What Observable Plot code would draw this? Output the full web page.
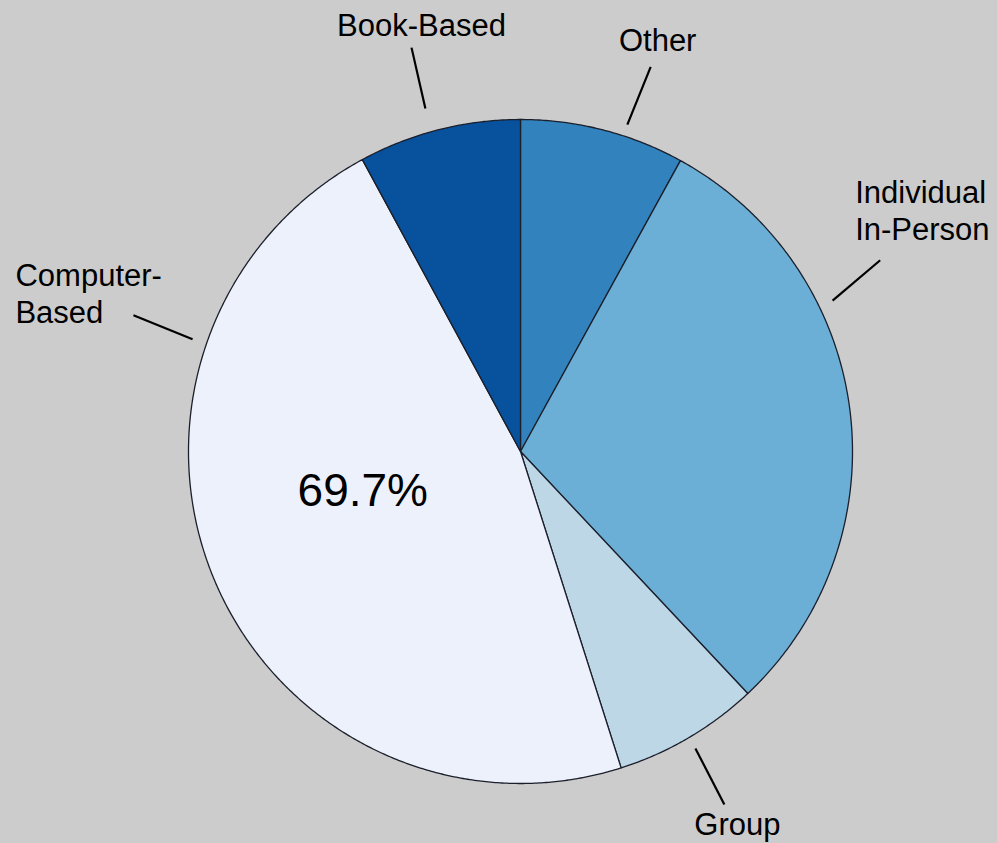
<!DOCTYPE html>
<html><head><meta charset="utf-8">
<script src="https://cdn.jsdelivr.net/npm/d3@7"></script>
<script src="https://cdn.jsdelivr.net/npm/@observablehq/plot@0.6"></script>
<style>html,body{margin:0;padding:0;background:#cccccc;overflow:hidden;}</style>
</head><body><div id="chart"></div>
<script>
// ---- data ----
const categories = ["Other", "Individual In-Person", "Group", "Computer-Based", "Book-Based"];
const labelTexts = ["Other", "Individual\nIn-Person", "Group", "Computer-\nBased", "Book-Based"];
const shares = [8.0, 30.0, 7.1, 47.0, 7.9];
const colors = ["#3182bd", "#6baed6", "#bdd7e7", "#edf1fb", "#08519c"];
const valueLabel = "69.7%";

// ---- layout (leader lines in polar units: degrees clockwise from 12 o'clock, radius in pie radii) ----
const leaderLayout = [
  {a1: 18.1, r1: 1.036, a2: 18.7, r2: 1.223, dx: 7, dy: -16, anchor: "middle"},
  {a1: 64.2, r1: 1.044, a2: 62.0, r2: 1.227, dx: -25, dy: -20, anchor: "start"},
  {a1: 149.5, r1: 1.038, a2: 150.0, r2: 1.228, dx: 13, dy: 30, anchor: "middle"},
  {a1: 288.9, r1: 1.044, a2: 289.4, r2: 1.236, dx: -118, dy: 8, anchor: "start"},
  {a1: 344.5, r1: 1.072, a2: 344.9, r2: 1.260, dx: 10, dy: -12, anchor: "middle"}
];
const valueLabelPos = {a: 255.8, r: 0.49};

const W = 997, H = 843, CX = 520, CY = 451, R = 332;

const pie = d3.pie().sort(null).value(d => d)(shares);
const rad = Math.PI / 180;
const polar = (angRad, r) => [r * Math.sin(angRad), r * Math.cos(angRad)];

// slice polygons
const slicePts = [];
pie.forEach((p, i) => {
  const name = categories[i];
  slicePts.push({name, x: 0, y: 0});
  const n = Math.max(2, Math.ceil((p.endAngle - p.startAngle) / (0.4 * rad)));
  for (let k = 0; k <= n; k++) {
    const a = p.startAngle + (p.endAngle - p.startAngle) * k / n;
    const [x, y] = polar(a, 1);
    slicePts.push({name, x, y});
  }
  slicePts.push({name, x: 0, y: 0});
});

const leaders = leaderLayout.map((L, i) => {
  const [x1, y1] = polar(L.a1 * rad, L.r1);
  const [x2, y2] = polar(L.a2 * rad, L.r2);
  return {name: categories[i], text: labelTexts[i], x1, y1, x2, y2, ...L};
});

const [vx, vy] = polar(valueLabelPos.a * rad, valueLabelPos.r);

const chart = Plot.plot({
  width: W, height: H,
  margin: 0,
  x: {domain: [-CX / R, (W - CX) / R], axis: null},
  y: {domain: [-(H - CY) / R, CY / R], axis: null},
  color: {domain: categories, range: colors},
  style: {background: "#cccccc", fontFamily: "'Liberation Sans', Arial, sans-serif"},
  marks: [
    Plot.line(slicePts, {x: "x", y: "y", z: "name", fill: "name", stroke: "#1b1f2b", strokeWidth: 1.3, curve: "linear"}),
    Plot.link(leaders, {x1: "x1", y1: "y1", x2: "x2", y2: "y2", stroke: "#000", strokeWidth: 2.2}),
    ...leaders.map(l => Plot.text([l], {x: "x2", y: "y2", text: "text", dx: l.dx, dy: l.dy, textAnchor: l.anchor, lineAnchor: "bottom", lineHeight: 1.19, fontSize: 31, fill: "#000"})),
    Plot.text([valueLabel], {x: () => vx, y: () => vy, text: d => d, fontSize: 46, fill: "#000", textAnchor: "middle", lineAnchor: "middle"})
  ]
});
document.getElementById("chart").append(chart);
</script>
</body></html>
